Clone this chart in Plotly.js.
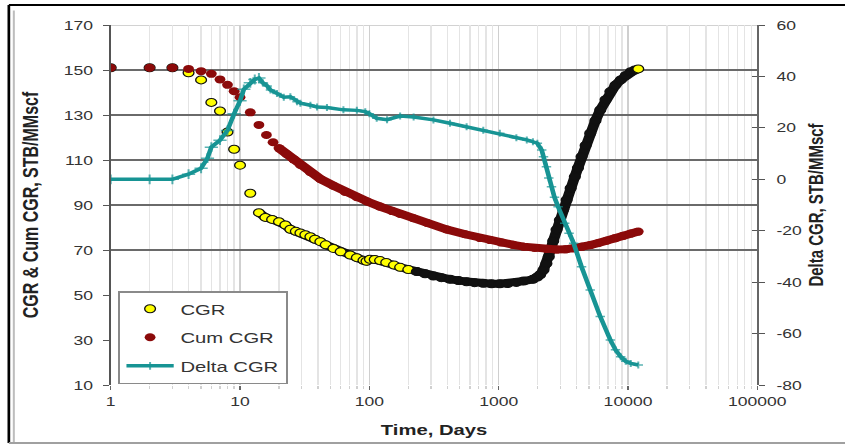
<!DOCTYPE html>
<html><head><meta charset="utf-8">
<script src="https://cdn.plot.ly/plotly-3.0.1.min.js"></script>
<style>
html,body{margin:0;padding:0;background:#fff;overflow:hidden;}
#chart{width:626px;height:447px;transform:scaleX(1.35);transform-origin:0 0;}
</style></head><body><div id="chart"></div>
<script>
// ---- tick labels ----
const xTickVals = [1, 10, 100, 1000, 10000, 100000];
const xTickText = ['1', '10', '100', '1000', '10000', '100000'];
const leftTickVals = [10, 30, 50, 70, 90, 110, 130, 150, 170];
const leftTickText = ['10', '30', '50', '70', '90', '110', '130', '150', '170'];
const rightTickVals = [-80, -60, -40, -20, 0, 20, 40, 60];
const rightTickText = ['-80', '-60', '-40', '-20', '0', '20', '40', '60'];
const gridVals = [70, 90, 110, 130, 150];

// ---- series ----
const cgrDays = [1,2,3,4,5,6,7,8,9,10,12,14,15.7,17.7,20,22.4,24.5,27,29.3,32,35,38,41.8,46,52.7,60,71,80,90,95,101,110,121,135,155,173,200,233,270,313,360,420,490,565,650,760,880,1020,1170,1370,1560,1840,1990,2090,2220,2340,2440,2540,2640,2800,2970,3150,3350,3600,3880,4100,4370,4700,5100,5600,6100,6700,7300,8000,8780,9600,10500,11300,12000];
const cgrValues = [151,151,151,148.8,145.6,135.6,131.8,122.4,114.8,107.7,95.2,86.6,84.5,83.6,82.6,81.1,79.2,78.3,77.6,76.8,75.9,74.8,73.7,72.3,70.7,69.2,67.8,66.6,65.4,65.0,65.9,65.8,65.3,64.5,63.3,62.3,61.3,60.4,59.4,58.4,57.7,57.0,56.4,55.9,55.5,55.2,55.0,55.0,55.1,55.6,56.2,57.0,58.0,59.0,61.1,64.0,67.0,70.5,74.0,79.0,83.3,88.0,92.2,97.5,102.6,106.5,111.5,116.5,121.9,127.5,132.2,136.8,140.4,143.3,145.6,147.6,149.2,150.0,150.5];

const cumDays = [1,2,3,4,5,6,7,8,9,10,12,14,16,18,20,23,26,29.3,35,42,52.7,65,80,96,121,150,173,219,280,398,550,718,860,1050,1295,1560,1900,2340,2800,3300,3800,4400,5100,5900,6830,7900,9160,10500,12000];
const cumValues = [151,151,151,150.5,149.5,148.3,145.8,143.4,140.6,137.9,131.2,125.6,121.1,117.9,115.3,112.6,110.3,107.8,104.6,101.5,98.6,95.8,93.5,91.6,89.3,87.3,86.0,84.1,82.0,79.1,77.0,75.3,74.4,73.3,72.3,71.5,70.9,70.5,70.2,70.3,70.7,71.4,72.2,73.1,74.1,75.2,76.3,77.3,78.2];

const deltaDays = [1,2,3,4,5,5.6,6,7,8,9,10,10.7,12,13,14,15,16.2,17.2,19.3,21.8,24.5,27.6,29.3,35,39.4,47,63,80,93,100,114,137,173,220,313,420,565,760,1020,1370,1650,1840,1990,2150,2220,2340,2440,2560,2700,2880,3240,3500,3800,4370,5100,6100,7300,8000,8780,9600,10500,12000];
const deltaValues = [0,0,0,2,4.3,8.2,12.5,15.2,19,25.5,30.5,35,37.5,38.8,39.4,37.5,36.3,34.7,33.4,31.9,32.1,30.2,29.6,28.8,28.1,27.9,27,26.8,26.3,25.5,23.7,23.2,24.6,24.2,23.1,21.8,20.4,19.1,17.9,16.2,15.3,14.6,14,11.4,8.8,4.9,0.5,-2.9,-7,-10.7,-17.1,-21,-24.9,-34,-43.1,-53.4,-62.5,-66.3,-69,-70.8,-71.6,-72.2];

// ---- styling ----
const FONT = 'Liberation Sans, Arial, sans-serif';
const RED = '#8b0a0a';
const TEAL = '#179494';
const YELLOW = '#ffff00';

// dense parts drawn as a thick band (the reference markers overlap there)
const cgrDenseIdx = cgrDays.map((d, i) => i).filter(i => cgrDays[i] >= 14);
const cumDenseIdx = cumDays.map((d, i) => i).filter(i => cumDays[i] >= 20);
const lastCgr = cgrDays.length - 1;
const cgrMarkerColors = cgrDays.map((d, i) => (d <= 200 || i === lastCgr) ? YELLOW : '#111');
const deltaMarkerSizes = deltaDays.map(d => d <= 14 ? 7 : 5);

const traces = [
  { x: cgrDenseIdx.map(i => cgrDays[i]), y: cgrDenseIdx.map(i => cgrValues[i]),
    type: 'scatter', mode: 'lines', line: { color: '#111', width: 8 },
    legendgroup: 'cgr', showlegend: false, hoverinfo: 'skip' },
  { x: cgrDays, y: cgrValues, name: 'CGR', type: 'scatter', mode: 'markers',
    marker: { color: cgrMarkerColors, size: 8, line: { color: '#111', width: 1 } },
    legendgroup: 'cgr' },
  { x: cumDenseIdx.map(i => cumDays[i]), y: cumDenseIdx.map(i => cumValues[i]),
    type: 'scatter', mode: 'lines', line: { color: RED, width: 8 },
    legendgroup: 'cum', showlegend: false, hoverinfo: 'skip' },
  { x: cumDays, y: cumValues, name: 'Cum CGR', type: 'scatter', mode: 'markers',
    marker: { color: RED, size: 8 }, legendgroup: 'cum' },
  { x: deltaDays, y: deltaValues, name: 'Delta CGR', type: 'scatter', mode: 'lines+markers',
    yaxis: 'y2', line: { color: TEAL, width: 3.5 },
    marker: { symbol: 'cross-thin', size: deltaMarkerSizes, line: { color: TEAL, width: 1.5 } },
    legendgroup: 'delta' }
];

const tickFont = { family: FONT, size: 13, color: '#333' };
const titleFont = { family: FONT, size: 15, color: '#222', weight: 700 };

const layout = {
  width: 626, height: 447,
  margin: { l: 81.5, r: 64.5, t: 25, b: 62 },
  paper_bgcolor: '#fff', plot_bgcolor: '#fff',
  showlegend: true,
  legend: {
    x: 0.0108, y: 0.261, xanchor: 'left', yanchor: 'top',
    bgcolor: '#fff', bordercolor: '#8a8a8a', borderwidth: 1.5,
    font: { family: FONT, size: 15, color: '#333' },
    itemwidth: 35, tracegroupgap: 6, traceorder: 'grouped'
  },
  xaxis: {
    type: 'log', range: [0, 5],
    tickmode: 'array', tickvals: xTickVals, ticktext: xTickText,
    tickfont: tickFont, ticks: 'outside', ticklen: 4, tickcolor: '#666',
    showline: false, zeroline: false,
    showgrid: true, gridcolor: '#cfcfcf', gridwidth: 1,
    minor: { dtick: 'D1', showgrid: true, gridcolor: '#e4e4e4', gridwidth: 1,
             ticks: 'outside', ticklen: 3, tickcolor: '#d0d0d0' },
    title: { text: 'Time, Days', font: titleFont, standoff: 16 }
  },
  yaxis: {
    range: [10, 170], tickmode: 'array', tickvals: leftTickVals, ticktext: leftTickText,
    tickfont: tickFont, ticks: 'outside', ticklen: 4, tickcolor: '#555',
    ticklabelstandoff: 5,
    showline: true, linecolor: '#555', linewidth: 1.5,
    showgrid: false, zeroline: false,
    title: { text: 'CGR & Cum CGR, STB/MMscf', font: Object.assign({}, titleFont, { size: 16 }), standoff: 14 }
  },
  yaxis2: {
    overlaying: 'y', side: 'right', range: [-80, 60],
    tickmode: 'array', tickvals: rightTickVals, ticktext: rightTickText,
    tickfont: tickFont, ticks: 'outside', ticklen: 4, tickcolor: '#555',
    ticklabelstandoff: 6,
    showline: true, linecolor: '#666', linewidth: 1.5,
    showgrid: false, zeroline: false,
    title: { text: 'Delta CGR, STB/MMscf', font: titleFont, standoff: 6 }
  },
  yaxis3: {
    overlaying: 'y', side: 'left', range: [10, 170],
    tickmode: 'array', tickvals: gridVals, showticklabels: false, ticks: '',
    showgrid: true, gridcolor: '#6a6a6a', gridwidth: 1.5,
    showline: false, zeroline: false
  },
  yaxis4: {
    overlaying: 'y', side: 'right', range: [-80, 60],
    tickmode: 'array', tickvals: rightTickVals, showticklabels: false,
    ticks: 'inside', ticklen: 4, tickcolor: '#555',
    showgrid: false, showline: false, zeroline: false
  },
  shapes: [
    { type: 'line', xref: 'paper', yref: 'y', x0: 0, x1: 1, y0: 170, y1: 170,
      line: { color: '#d2d2d2', width: 2 }, layer: 'below' },
    { type: 'line', xref: 'paper', yref: 'paper', x0: -0.1575, x1: -0.1575, y0: -0.161, y1: 1.0556,
      line: { color: '#000', width: 2 } },
    { type: 'line', xref: 'paper', yref: 'paper', x0: -0.1575, x1: 1.2, y0: 1.0556, y1: 1.0556,
      line: { color: '#000', width: 2 } },
    { type: 'line', xref: 'paper', yref: 'paper', x0: -0.1498, x1: -0.1498, y0: -0.161, y1: 1.04,
      line: { color: '#bdbdbd', width: 1.5 } },
    { type: 'line', xref: 'paper', yref: 'paper', x0: -0.1575, x1: 1.2, y0: -0.161, y1: -0.161,
      line: { color: '#a0a0a0', width: 2 } }
  ]
};

// y3 / y4 only carry grid lines and tick marks; attach invisible empty traces so they render
traces.push({ x: [], y: [], yaxis: 'y3', type: 'scatter', mode: 'markers', showlegend: false, hoverinfo: 'skip' });
traces.push({ x: [], y: [], yaxis: 'y4', type: 'scatter', mode: 'markers', showlegend: false, hoverinfo: 'skip' });

Plotly.newPlot('chart', traces, layout, { displayModeBar: false, staticPlot: true });
</script>
</body></html>
